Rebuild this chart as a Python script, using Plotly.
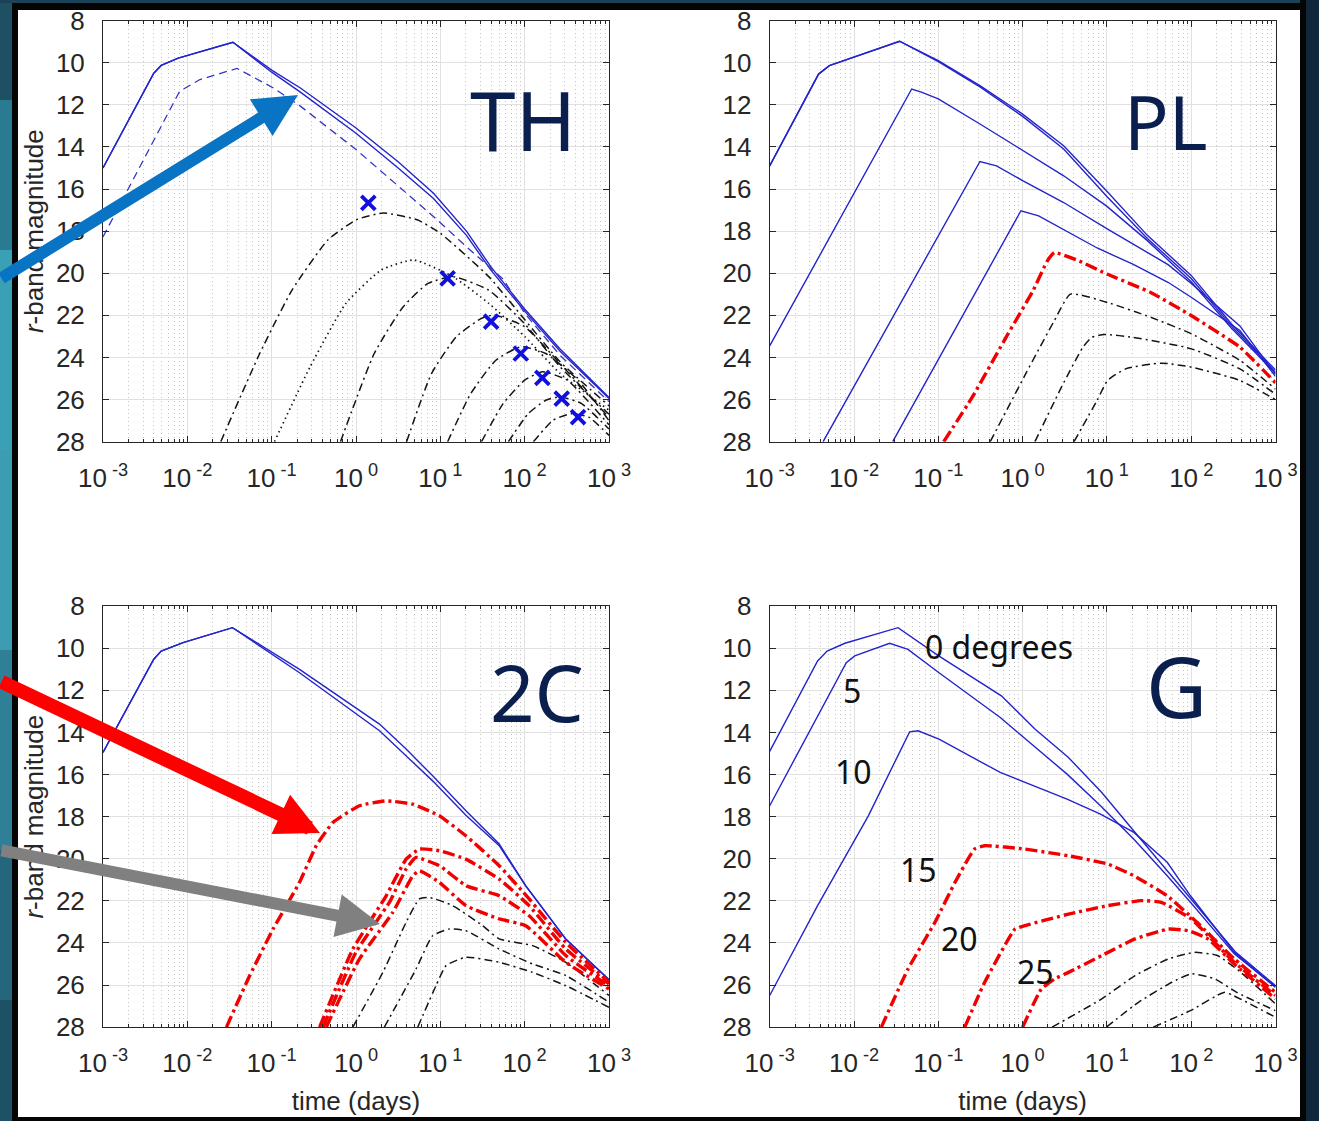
import plotly.graph_objects as go

W, H = 1319, 1121

# ---------------- axis ticks ----------------
TIME_TICKS = [0.001, 0.01, 0.1, 1, 10, 100, 1000]
TIME_TICK_TEXT = ["10<sup> -3</sup>", "10<sup> -2</sup>", "10<sup> -1</sup>", "10<sup> 0</sup>",
                  "10<sup> 1</sup>", "10<sup> 2</sup>", "10<sup> 3</sup>"]
TIME_MINOR = [k * d for d in [0.001, 0.01, 0.1, 1, 10, 100] for k in range(2, 10)]
MAG_TICKS = [8, 10, 12, 14, 16, 18, 20, 22, 24, 26, 28]

# ---------------- TH panel ----------------
th_blue1_t = [0.001, 0.004, 0.0049, 0.0078, 0.0347, 0.1, 0.219, 1.0, 3.16, 8.3, 20.4, 39.8, 100, 263, 1000]
th_blue1_m = [15.0, 10.5, 10.13, 9.78, 9.03, 10.35, 11.2, 13.1, 14.7, 16.2, 18.0, 19.7, 21.7, 23.6, 25.9]
th_blue2_t = [0.001, 0.004, 0.0049, 0.0078, 0.0347, 0.1, 0.219, 1.0, 3.16, 8.3, 20.4, 39.8, 100, 263, 1000]
th_blue2_m = [15.0, 10.5, 10.13, 9.78, 9.03, 10.45, 11.4, 13.35, 15.0, 16.45, 18.2, 19.85, 21.8, 23.7, 25.95]
th_dash_t = [0.001, 0.0081, 0.0141, 0.0389, 0.105, 0.217, 1.02, 8.28, 20.4, 56.2, 100, 263, 1000]
th_dash_m = [18.27, 11.36, 10.8, 10.27, 11.2, 12.05, 14.15, 17.3, 18.74, 20.3, 21.9, 23.9, 26.1]
th_dot_t = [0.108, 0.286, 0.759, 2.0, 4.83, 14.1, 37.5, 100, 263, 1000]
th_dot_m = [28, 24.44, 21.43, 19.84, 19.37, 20.16, 21.43, 23.0, 24.76, 26.5]
th_black_t = [
    [0.0249, 0.0724, 0.175, 0.466, 1.01, 2.11, 5.32, 10, 37.5, 100, 263, 1000],
    [0.655, 1.65, 3.61, 7.14, 14.1, 37.5, 100, 263, 1000],
    [3.98, 7.87, 15.6, 30.8, 43.4, 100, 263, 1000],
    [12.2, 23, 45.5, 90.2, 178, 430, 1000],
    [30.8, 55.5, 100, 162, 320, 1000],
    [64.1, 110, 178, 263, 473, 1000],
    [127, 217, 353, 574, 1000],
]
th_black_m = [
    [28, 23.8, 20.79, 18.41, 17.46, 17.14, 17.46, 18.1, 20.16, 22.2, 24.2, 26.3],
    [28, 23.8, 21.6, 20.48, 20.16, 20.8, 22.4, 24.44, 26.7],
    [28, 24.76, 23.0, 22.14, 21.98, 22.54, 24.29, 26.85],
    [28, 25.71, 24.13, 23.49, 23.81, 25.08, 27.0],
    [28, 26.19, 25.08, 24.68, 25.08, 27.2],
    [28, 26.67, 26.03, 25.87, 26.19, 27.4],
    [28, 26.98, 26.67, 26.83, 27.7],
]
th_cross_t = [1.40, 12.2, 40, 90, 162, 275, 430]
th_cross_m = [16.66, 20.24, 22.3, 23.81, 24.97, 25.95, 26.83]

# ---------------- PL panel ----------------
pl_blue_t = [
    [0.001, 0.0038, 0.0051, 0.0112, 0.0347, 0.1, 0.312, 1, 3.07, 10, 30.2, 100, 299, 1000],
    [0.001, 0.0038, 0.0051, 0.0112, 0.0347, 0.1, 0.312, 1, 3.07, 10, 30.2, 100, 299, 1000],
    [0.001, 0.0483, 0.063, 0.1, 0.312, 1, 3.07, 9.86, 30.2, 100, 299, 1000],
    [0.0043, 0.312, 0.49, 1, 3.07, 10.2, 53.7, 101, 378, 1000],
    [0.0288, 0.955, 1.55, 7.67, 20.3, 53.7, 101, 378, 1000],
]
pl_blue_m = [
    [14.9, 10.54, 10.14, 9.66, 8.98, 9.9, 11.09, 12.44, 13.94, 16.1, 18.2, 20.1, 22.4, 24.6],
    [14.9, 10.54, 10.14, 9.66, 8.98, 9.95, 11.15, 12.55, 14.1, 16.35, 18.35, 20.25, 22.5, 24.7],
    [23.45, 11.25, 11.4, 11.72, 12.91, 14.18, 15.37, 16.8, 18.45, 20.4, 22.6, 24.75],
    [28, 14.69, 14.9, 15.6, 16.64, 17.9, 19.6, 20.5, 22.5, 24.8],
    [28, 17.03, 17.27, 18.8, 19.57, 20.44, 21.15, 22.72, 24.9],
]
pl_red_t = [[0.116, 0.254, 0.671, 1.33, 1.96, 2.38, 4.71, 10.2, 33.1, 101, 378, 1000]]
pl_red_m = [[28, 25.87, 22.88, 20.83, 19.42, 19.02, 19.42, 20.05, 20.91, 22.02, 23.51, 25.2]]
pl_black_t = [
    [0.413, 1.09, 2.38, 3.7, 10.2, 33.1, 101, 378, 1000],
    [1.4, 2.9, 5.2, 6.64, 9.33, 20.3, 101, 378, 1000],
    [4.07, 7.67, 10.2, 16.7, 44.3, 101, 378, 1000],
]
pl_black_m = [
    [28, 24.77, 22.25, 20.99, 21.39, 22.09, 22.88, 24.14, 25.5],
    [28, 25.4, 23.51, 23.04, 22.91, 23.04, 23.59, 24.54, 25.75],
    [28, 26.03, 25.09, 24.54, 24.27, 24.46, 25.09, 26.0],
]

# ---------------- 2C panel ----------------
c2_blue_t = [
    [0.001, 0.004, 0.0049, 0.0089, 0.0343, 0.214, 1.9, 3.93, 8.11, 20.1, 49.9, 103, 307, 1000],
    [0.001, 0.004, 0.0049, 0.0089, 0.0343, 0.214, 1.9, 3.93, 8.11, 20.1, 49.9, 103, 307, 1000],
]
c2_blue_m = [
    [14.95, 10.52, 10.13, 9.73, 9.02, 11.0, 13.6, 14.79, 16.06, 17.72, 19.3, 21.28, 23.81, 25.75],
    [14.95, 10.52, 10.13, 9.73, 9.02, 11.16, 13.92, 15.11, 16.3, 17.93, 19.38, 21.3, 23.82, 25.75],
]
c2_red_t = [
    [0.0291, 0.055, 0.104, 0.214, 0.338, 0.532, 1.1, 2.28, 4.71, 9.73, 20.1, 49.9, 113, 307, 1000],
    [0.37, 0.918, 2.28, 3.93, 5.64, 9.73, 20.1, 49.9, 113, 307, 1000],
    [0.406, 1.0, 2.49, 3.93, 5.15, 9.73, 20.1, 49.9, 113, 307, 1000],
    [0.444, 1.1, 2.73, 4.71, 5.64, 9.73, 20.1, 49.9, 103, 307, 1000],
]
c2_red_m = [
    [28, 25.55, 23.34, 21.12, 19.38, 18.28, 17.48, 17.25, 17.41, 17.96, 18.91, 20.33, 21.91, 23.97, 25.87],
    [28, 24.29, 21.76, 20.02, 19.54, 19.62, 20.02, 20.97, 22.23, 24.29, 25.95],
    [28, 24.44, 22.07, 20.49, 19.94, 20.33, 21.28, 21.76, 22.71, 24.6, 26.05],
    [28, 24.76, 22.55, 20.81, 20.57, 21.12, 22.23, 22.86, 23.18, 24.92, 26.19],
]
c2_black_t = [
    [0.918, 2.08, 3.93, 5.64, 7.41, 14.0, 31.7, 49.9, 124, 307, 1000],
    [2.17, 5.15, 8.11, 12.8, 20.1, 49.9, 124, 307, 1000],
    [5.4, 8.89, 11.7, 20.1, 49.9, 124, 307, 1000],
]
c2_black_m = [
    [28, 25.4, 23.02, 21.91, 21.84, 22.23, 23.18, 23.81, 24.13, 24.92, 26.5],
    [28, 25.24, 23.66, 23.34, 23.42, 24.29, 25.0, 25.55, 26.82],
    [28, 26.03, 25.08, 24.68, 24.92, 25.4, 26.03, 27.06],
]

# ---------------- G panel ----------------
g_blue_t = [
    [0.001, 0.0037, 0.0048, 0.0078, 0.0333, 0.1, 0.56, 1.41, 3.5, 8.69, 21.6, 53.7, 100, 339, 1000],
    [0.001, 0.0081, 0.0102, 0.0265, 0.0437, 0.102, 0.543, 3.37, 8.39, 20.9, 51.9, 98, 324, 1000],
    [0.001, 0.0037, 0.0148, 0.0457, 0.0575, 0.102, 0.543, 1.35, 3.37, 8.39, 20.9, 51.9, 98, 324, 1000],
]
g_blue_m = [
    [14.9, 10.6, 10.13, 9.76, 9.02, 10.35, 12.26, 13.85, 15.19, 16.85, 18.75, 20.65, 21.91, 24.45, 26.03],
    [17.48, 10.68, 10.36, 9.76, 10.05, 11.16, 13.29, 15.98, 17.48, 19.07, 20.81, 22.07, 24.52, 26.1],
    [26.5, 22.23, 17.96, 13.97, 13.92, 14.32, 15.9, 16.53, 17.17, 17.88, 18.75, 20.17, 21.76, 24.45, 26.1],
]
g_red_t = [
    [0.0211, 0.0437, 0.0912, 0.158, 0.269, 0.355, 1.06, 3.5, 10.2, 20.9, 51.9, 117, 324, 1000],
    [0.206, 0.355, 0.813, 1.06, 3.5, 10.2, 25.7, 44.1, 100, 324, 1000],
    [1.0, 1.67, 2.4, 3.5, 8.69, 21.6, 53.7, 92.3, 158, 324, 1000],
]
g_red_m = [
    [28, 25.24, 23.02, 21.12, 19.54, 19.38, 19.54, 19.86, 20.25, 20.81, 21.76, 23.02, 24.76, 26.35],
    [28, 25.87, 23.34, 23.18, 22.63, 22.23, 21.99, 22.07, 22.86, 24.92, 26.5],
    [28, 26.19, 25.71, 25.4, 24.6, 23.81, 23.34, 23.42, 23.81, 25.0, 26.66],
]
g_black_t = [
    [2.24, 8.69, 21.6, 53.7, 110, 204, 389, 1000],
    [9.86, 23.7, 58.9, 100, 191, 347, 1000],
    [35.5, 97.7, 245, 316, 1000],
]
g_black_m = [
    [28, 26.66, 25.55, 24.76, 24.45, 24.6, 25.4, 26.9],
    [28, 26.82, 25.87, 25.47, 25.71, 26.35, 27.22],
    [28, 27.22, 26.35, 26.5, 27.53],
]
g_angle_labels = ["0 degrees", "5", "10", "15", "20", "25"]

PANEL_NAMES = ["TH", "PL", "2C", "G"]

# ---------------- styles ----------------
BLUE = "#2424cc"
RED = "#f20000"
BLACK = "#141414"
SOLID_BLUE = dict(color=BLUE, width=1.4)
DASH_BLUE = dict(color="#3434c4", width=1.3, dash="8px,5px")
DASHDOT_BLACK = dict(color=BLACK, width=1.5, dash="8px,4px,2px,4px", shape="spline", smoothing=0.5)
DOT_BLACK = dict(color=BLACK, width=1.7, dash="1.5px,3.5px", shape="spline", smoothing=0.5)
RED_THICK = dict(color=RED, width=3.4, dash="12px,4px,3px,4px", shape="spline", smoothing=0.4)

fig = go.Figure()


def add_line(t, m, line, xa, ya):
    fig.add_trace(go.Scatter(x=t, y=m, mode="lines", line=line, xaxis=xa, yaxis=ya,
                             showlegend=False, hoverinfo="skip"))


# TH (x, y)
add_line(th_blue1_t, th_blue1_m, SOLID_BLUE, "x", "y")
add_line(th_blue2_t, th_blue2_m, SOLID_BLUE, "x", "y")
add_line(th_dash_t, th_dash_m, DASH_BLUE, "x", "y")
add_line(th_dot_t, th_dot_m, DOT_BLACK, "x", "y")
for t, m in zip(th_black_t, th_black_m):
    add_line(t, m, DASHDOT_BLACK, "x", "y")
fig.add_trace(go.Scatter(x=th_cross_t, y=th_cross_m, mode="markers", xaxis="x", yaxis="y",
                         marker=dict(symbol="x-thin", size=14, line=dict(color="#1010e0", width=3.8)),
                         showlegend=False, hoverinfo="skip"))

# PL (x2, y2)
for t, m in zip(pl_blue_t, pl_blue_m):
    add_line(t, m, SOLID_BLUE, "x2", "y2")
for t, m in zip(pl_black_t, pl_black_m):
    add_line(t, m, DASHDOT_BLACK, "x2", "y2")
for t, m in zip(pl_red_t, pl_red_m):
    add_line(t, m, RED_THICK, "x2", "y2")

# 2C (x3, y3)
for t, m in zip(c2_blue_t, c2_blue_m):
    add_line(t, m, SOLID_BLUE, "x3", "y3")
for t, m in zip(c2_black_t, c2_black_m):
    add_line(t, m, DASHDOT_BLACK, "x3", "y3")
for t, m in zip(c2_red_t, c2_red_m):
    add_line(t, m, RED_THICK, "x3", "y3")

# G (x4, y4)
for t, m in zip(g_blue_t, g_blue_m):
    add_line(t, m, SOLID_BLUE, "x4", "y4")
for t, m in zip(g_black_t, g_black_m):
    add_line(t, m, DASHDOT_BLACK, "x4", "y4")
for t, m in zip(g_red_t, g_red_m):
    add_line(t, m, RED_THICK, "x4", "y4")

# ---------------- axes ----------------
AX_COL = "#262626"
TICK_FONT = dict(family="Liberation Sans, Arial, sans-serif", size=26, color=AX_COL)
TITLE_FONT = dict(family="Liberation Sans, Arial, sans-serif", size=26, color=AX_COL)

XL = [103 / W, 609 / W]
XR = [769.7 / W, 1275.5 / W]
YT = [1 - 441.7 / H, 1 - 20.6 / H]
YB = [1 - 1027.1 / H, 1 - 606.2 / H]


def xaxis(domain, anchor, title):
    d = dict(type="log", range=[-3, 3], domain=domain, anchor=anchor, automargin=False,
             tickmode="array", tickvals=TIME_TICKS, ticktext=TIME_TICK_TEXT,
             ticks="inside", ticklen=6, tickcolor=AX_COL, tickwidth=1,
             showline=True, linecolor=AX_COL, linewidth=1, mirror="ticks",
             showgrid=True, gridcolor="#e1e1e1", gridwidth=1, zeroline=False,
             tickfont=TICK_FONT, ticklabelstandoff=13,
             minor=dict(tickmode="array", tickvals=TIME_MINOR, ticks="inside", ticklen=3,
                        tickcolor=AX_COL, showgrid=True, gridcolor="#c4c4c4",
                        griddash="1px,3px", gridwidth=1))
    if title:
        d["title"] = dict(text=title, font=TITLE_FONT, standoff=14)
    return d


def yaxis(domain, anchor, title):
    d = dict(range=[28, 8], domain=domain, anchor=anchor, automargin=False,
             tickmode="array", tickvals=MAG_TICKS,
             ticks="inside", ticklen=6, tickcolor=AX_COL, tickwidth=1,
             showline=True, linecolor=AX_COL, linewidth=1, mirror="ticks",
             showgrid=True, gridcolor="#e1e1e1", gridwidth=1, zeroline=False,
             tickfont=TICK_FONT, ticklabelstandoff=12)
    if title:
        d["title"] = dict(text=title, font=TITLE_FONT, standoff=4)
    return d


YTITLE = "<i>r</i>-band magnitude"
XTITLE = "time (days)"

fig.update_layout(
    width=W, height=H, autosize=False,
    margin=dict(l=0, r=0, t=0, b=0, pad=0, autoexpand=False),
    paper_bgcolor="#10263a", plot_bgcolor="white",
    showlegend=False,
    xaxis=xaxis(XL, "y", None), yaxis=yaxis(YT, "x", YTITLE),
    xaxis2=xaxis(XR, "y2", None), yaxis2=yaxis(YT, "x2", None),
    xaxis3=xaxis(XL, "y3", XTITLE), yaxis3=yaxis(YB, "x3", YTITLE),
    xaxis4=xaxis(XR, "y4", XTITLE), yaxis4=yaxis(YB, "x4", None),
)

# ---------------- background frame ----------------
shapes = []


def rect(x0, y0, x1, y1, color, layer="below"):
    shapes.append(dict(type="rect", xref="paper", yref="paper",
                       x0=x0 / W, x1=x1 / W, y0=1 - y1 / H, y1=1 - y0 / H,
                       fillcolor=color, line=dict(width=0), layer=layer))


# teal strip on the left (space picture)
for (ya, yb, c) in [(0, 100, "#1f4f63"), (100, 250, "#2a7b92"), (250, 450, "#3aa0b6"),
                    (450, 650, "#3c9db2"), (650, 850, "#2f8097"), (850, 1000, "#25667d"),
                    (1000, 1121, "#1d5266")]:
    rect(0, ya, 13, yb, c)
rect(0, 0, W, 3, "#1b4256")
rect(12, 3, 1306, H, "#050505")
rect(18, 10, 1300, 1117, "white")
# right border drawn above to clip the last tick label
rect(1300, 0, 1306, H, "#050505", layer="above")
rect(1306, 0, W, H, "#10263a", layer="above")

fig.update_layout(shapes=shapes)

# ---------------- annotations ----------------
ann = []
HAND = "Noto Sans, DejaVu Sans, sans-serif"
NAVY = "#0b1f4f"
label_pos = [(523, 119, 82), (1166, 121, 74), (537, 692, 78), (1176, 685, 84)]
for name, (px, py, sz) in zip(PANEL_NAMES, label_pos):
    ann.append(dict(x=px / W, y=1 - py / H, xref="paper", yref="paper", text=name,
                    showarrow=False, font=dict(family=HAND, size=sz, color=NAVY),
                    xanchor="center", yanchor="middle"))

angle_pos = [(999, 647), (852, 690), (853, 771), (918, 869), (959, 938), (1035, 971)]
for txt, (px, py) in zip(g_angle_labels, angle_pos):
    ann.append(dict(x=px / W, y=1 - py / H, xref="paper", yref="paper", text=txt,
                    showarrow=False, font=dict(family=HAND, size=32, color="#111111"),
                    xanchor="center", yanchor="middle"))

# arrows (tip position, tail offset in pixels)
for (tx, ty, ax, ay, col, w, hs) in [(298, 95, -313, 184, "#0a74c4", 12, 0.72),
                                     (320, 833, -336, -152, "#ff0000", 14, 0.62),
                                     (380, 924, -399, -74, "#808080", 12, 0.72)]:
    ann.append(dict(x=tx / W, y=1 - ty / H, xref="paper", yref="paper", text="",
                    showarrow=True, arrowhead=2, arrowsize=hs, arrowwidth=w,
                    arrowcolor=col, ax=ax, ay=ay, axref="pixel", ayref="pixel",
                    standoff=0, startstandoff=0))

fig.update_layout(annotations=ann)

fig.write_html("out.html")
